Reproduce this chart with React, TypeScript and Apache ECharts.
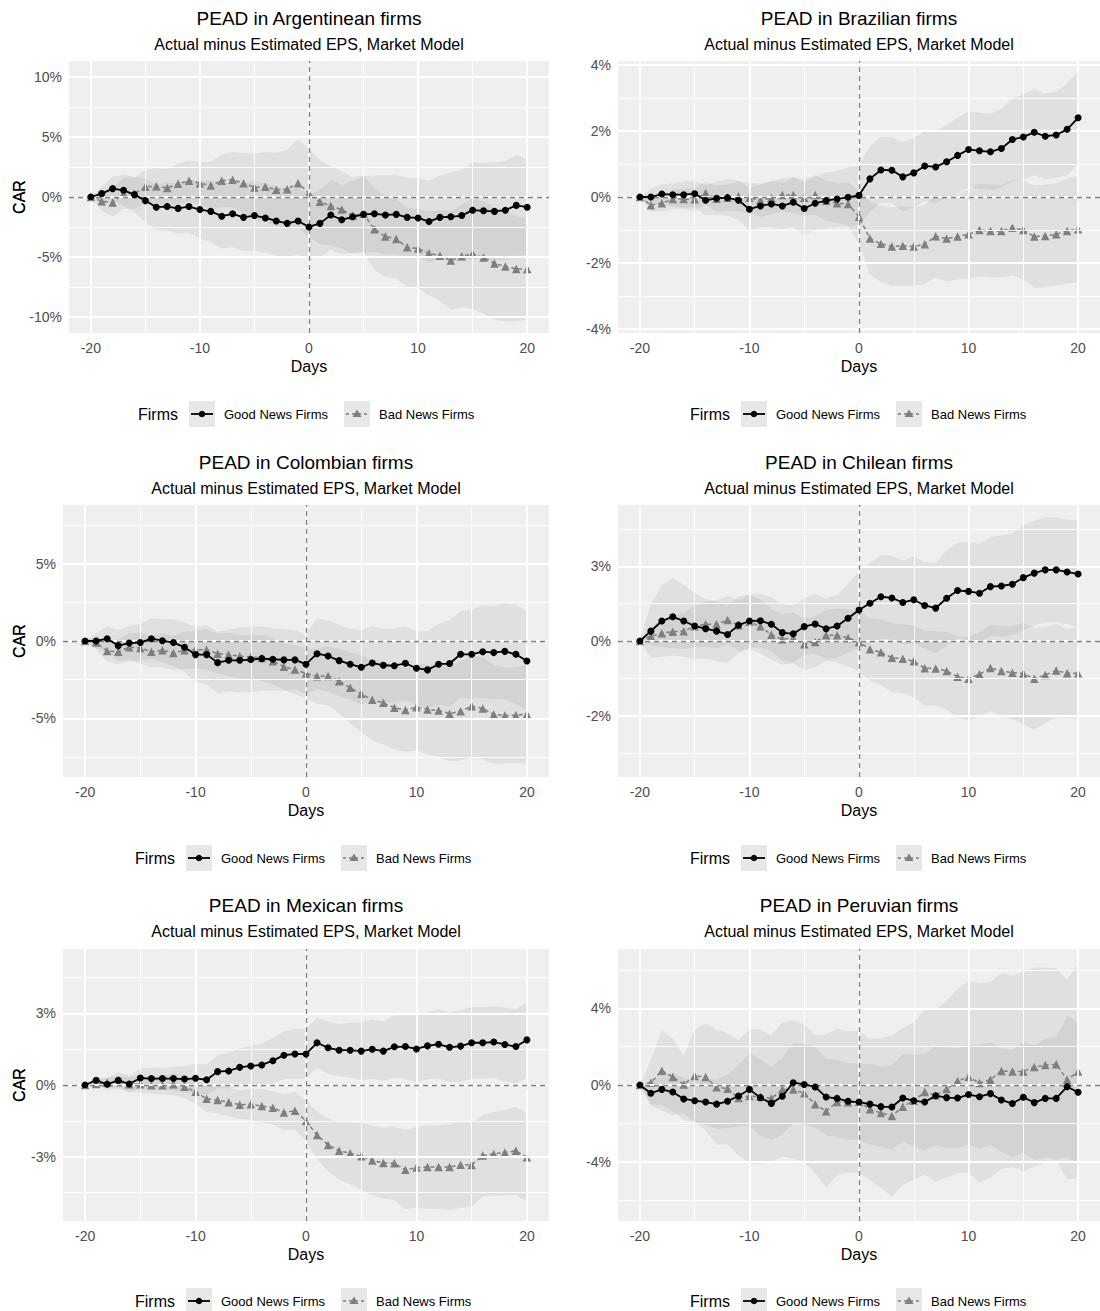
import React, { useEffect, useRef } from "react";
import * as echarts from "echarts";

const FONT = "'Liberation Sans', Arial, Helvetica, sans-serif";

// ---------- data ----------
const days = [-20, -19, -18, -17, -16, -15, -14, -13, -12, -11, -10, -9, -8, -7, -6, -5, -4, -3, -2, -1, 0, 1, 2, 3, 4, 5, 6, 7, 8, 9, 10, 11, 12, 13, 14, 15, 16, 17, 18, 19, 20];

const panelTitles = [
  "PEAD in Argentinean firms",
  "PEAD in Brazilian firms",
  "PEAD in Colombian firms",
  "PEAD in Chilean firms",
  "PEAD in Mexican firms",
  "PEAD in Peruvian firms",
];
const subtitle = "Actual minus Estimated EPS, Market Model";
const legendTitle = "Firms";
const legendLabels = ["Good News Firms", "Bad News Firms"];
const xTicks = [-20, -10, 0, 10, 20];
const xMinor = [-15, -5, 5, 15];

// Argentina (CAR, %)
const argGood = [0, 0.28, 0.7, 0.56, 0.2, -0.3, -0.85, -0.8, -0.95, -0.8, -1.05, -1.2, -1.6, -1.4, -1.7, -1.55, -1.75, -2.0, -2.2, -2.0, -2.5, -2.2, -1.5, -1.9, -1.65, -1.45, -1.4, -1.5, -1.45, -1.7, -1.75, -2.05, -1.7, -1.65, -1.55, -1.1, -1.15, -1.2, -1.1, -0.7, -0.85];
const argBad = [0, -0.35, -0.45, 0.3, 0.3, 0.85, 0.9, 0.75, 1.1, 1.35, 1.15, 0.95, 1.35, 1.45, 1.15, 0.8, 0.85, 0.6, 0.65, 1.15, 0.3, -0.4, -0.75, -1.05, -1.55, -1.4, -2.7, -3.3, -3.5, -4.2, -4.3, -4.7, -4.9, -5.3, -4.95, -4.75, -5.05, -5.55, -5.8, -6.0, -6.0];
const argGoodCI = [0, 0.6, 1.0, 1.3, 1.5, 1.8, 1.9, 2.0, 2.1, 2.2, 2.4, 2.6, 2.7, 2.8, 2.8, 2.9, 2.9, 2.9, 2.8, 2.8, 2.7, 2.8, 2.9, 2.9, 3.0, 3.2, 3.2, 3.3, 3.3, 3.3, 3.3, 3.4, 3.5, 3.7, 3.8, 4.0, 4.0, 4.1, 4.1, 4.2, 4.0];
const argBadCI = [0, 0.8, 1.2, 1.3, 1.3, 1.4, 1.5, 1.6, 1.7, 1.7, 1.8, 2.0, 2.2, 2.3, 2.5, 2.8, 2.9, 3.1, 3.3, 3.7, 3.7, 3.5, 3.3, 3.2, 3.2, 3.2, 3.4, 3.4, 3.3, 3.3, 3.3, 3.5, 3.8, 4.1, 4.3, 4.6, 4.7, 4.7, 4.6, 4.4, 4.2];
const argTicks = [-10, -5, 0, 5, 10];
const argTickLabels = ["-10%", "-5%", "0%", "5%", "10%"];
const argRange = [-11.35, 11.35];

// Brazil
const braGood = [0, 0, 0.09, 0.07, 0.07, 0.1, -0.1, -0.04, -0.02, -0.1, -0.37, -0.27, -0.21, -0.27, -0.16, -0.35, -0.19, -0.11, -0.06, -0.01, 0.05, 0.55, 0.82, 0.81, 0.61, 0.73, 0.94, 0.91, 1.07, 1.26, 1.44, 1.4, 1.37, 1.47, 1.74, 1.82, 1.96, 1.84, 1.88, 2.05, 2.4];
const braBad = [0, -0.25, -0.19, -0.06, -0.06, -0.07, 0.12, -0.05, -0.02, 0.02, -0.02, -0.1, -0.03, 0.06, 0.06, -0.02, 0.06, -0.11, -0.19, -0.21, -0.6, -1.26, -1.42, -1.5, -1.48, -1.5, -1.43, -1.19, -1.26, -1.2, -1.13, -1.0, -1.03, -1.03, -0.93, -1.0, -1.2, -1.18, -1.13, -1.03, -0.98];
const braGoodCI = [0, 0.25, 0.3, 0.35, 0.4, 0.4, 0.45, 0.5, 0.55, 0.6, 0.65, 0.65, 0.7, 0.7, 0.75, 0.8, 0.8, 0.85, 0.85, 0.9, 0.9, 1.0, 1.0, 1.0, 1.05, 1.05, 1.05, 1.1, 1.1, 1.15, 1.15, 1.15, 1.15, 1.2, 1.25, 1.3, 1.3, 1.3, 1.3, 1.4, 1.4];
const braBadCI = [0, 0.2, 0.25, 0.3, 0.3, 0.35, 0.35, 0.4, 0.4, 0.45, 0.45, 0.5, 0.5, 0.5, 0.55, 0.55, 0.6, 0.6, 0.6, 0.65, 0.8, 1.1, 1.15, 1.2, 1.2, 1.2, 1.2, 1.25, 1.3, 1.3, 1.35, 1.4, 1.4, 1.4, 1.45, 1.5, 1.55, 1.55, 1.55, 1.6, 1.6];
const braTicks = [-4, -2, 0, 2, 4];
const braTickLabels = ["-4%", "-2%", "0%", "2%", "4%"];
const braRange = [-4.12, 4.12];

// Colombia
const colGood = [0, 0, 0.15, -0.3, -0.13, -0.1, 0.15, 0.02, -0.1, -0.4, -0.88, -0.88, -1.4, -1.25, -1.25, -1.2, -1.14, -1.18, -1.22, -1.22, -1.5, -0.82, -0.97, -1.27, -1.5, -1.7, -1.42, -1.57, -1.6, -1.44, -1.76, -1.87, -1.5, -1.46, -0.86, -0.86, -0.69, -0.75, -0.67, -0.86, -1.29];
const colBad = [0, -0.1, -0.65, -0.7, -0.4, -0.45, -0.7, -0.6, -0.77, -0.6, -0.56, -0.56, -0.82, -0.88, -0.99, -1.03, -1.1, -1.31, -1.66, -1.85, -2.1, -2.28, -2.26, -2.6, -3.03, -3.42, -3.8, -4.0, -4.32, -4.47, -4.28, -4.43, -4.5, -4.7, -4.54, -4.22, -4.37, -4.75, -4.82, -4.8, -4.73];
const colGoodCI = [0, 0.5, 0.8, 1.0, 1.1, 1.2, 1.3, 1.4, 1.5, 1.6, 1.8, 1.9, 2.0, 2.0, 2.1, 2.1, 2.1, 2.0, 2.0, 1.9, 1.9, 2.3, 2.3, 2.3, 2.3, 2.4, 2.4, 2.4, 2.4, 2.4, 2.4, 2.5, 2.6, 2.8, 2.8, 2.9, 3.0, 3.0, 3.1, 3.2, 3.2];
const colBadCI = [0, 0.4, 0.7, 0.8, 0.9, 1.0, 1.0, 1.1, 1.1, 1.2, 1.2, 1.3, 1.3, 1.4, 1.4, 1.4, 1.5, 1.5, 1.5, 1.6, 1.6, 1.8, 1.9, 2.1, 2.3, 2.5, 2.6, 2.7, 2.7, 2.7, 2.8, 2.9, 3.0, 3.1, 3.2, 3.3, 3.3, 3.2, 3.1, 3.1, 3.2];
const colTicks = [-5, 0, 5];
const colTickLabels = ["-5%", "0%", "5%"];
const colRange = [-8.8, 8.8];

// Chile
const chiGood = [0, 0.33, 0.67, 0.81, 0.67, 0.5, 0.41, 0.33, 0.22, 0.53, 0.67, 0.68, 0.56, 0.28, 0.24, 0.48, 0.57, 0.41, 0.5, 0.76, 1.04, 1.26, 1.48, 1.44, 1.29, 1.38, 1.19, 1.1, 1.43, 1.69, 1.66, 1.6, 1.82, 1.84, 1.9, 2.12, 2.27, 2.38, 2.38, 2.31, 2.24];
const chiBad = [0, 0.16, 0.26, 0.31, 0.33, 0.49, 0.56, 0.56, 0.7, 0.53, 0.64, 0.49, 0.21, 0.06, 0.1, -0.11, -0.03, 0.19, 0.19, 0.1, -0.03, -0.28, -0.38, -0.56, -0.59, -0.68, -0.91, -0.92, -1.0, -1.2, -1.26, -1.11, -0.9, -1.0, -1.06, -1.09, -1.26, -1.14, -0.99, -1.08, -1.08];
const chiGoodCI = [0, 0.9, 1.2, 1.3, 1.2, 1.1, 1.0, 1.0, 0.95, 0.95, 0.9, 0.9, 0.9, 0.95, 0.95, 0.95, 1.0, 1.0, 1.05, 1.15, 1.3, 1.35, 1.4, 1.4, 1.4, 1.45, 1.45, 1.5, 1.6, 1.6, 1.65, 1.65, 1.65, 1.7, 1.7, 1.75, 1.75, 1.75, 1.75, 1.75, 1.8];
const chiBadCI = [0, 0.3, 0.45, 0.55, 0.6, 0.7, 0.75, 0.8, 0.8, 0.85, 0.9, 0.9, 0.85, 0.85, 0.85, 0.85, 0.85, 0.85, 0.9, 0.95, 1.0, 1.05, 1.1, 1.15, 1.15, 1.2, 1.25, 1.25, 1.3, 1.35, 1.4, 1.4, 1.45, 1.5, 1.55, 1.7, 1.7, 1.6, 1.55, 1.5, 1.5];
const chiTicks = [-2.5, 0, 2.5];
const chiTickLabels = ["-2%", "0%", "3%"];
const chiRange = [-4.55, 4.55];

// Mexico
const mexGood = [0, 0.2, 0.03, 0.2, 0.04, 0.29, 0.27, 0.27, 0.27, 0.25, 0.28, 0.22, 0.56, 0.59, 0.74, 0.8, 0.84, 1.02, 1.25, 1.3, 1.3, 1.77, 1.56, 1.46, 1.46, 1.42, 1.5, 1.42, 1.6, 1.61, 1.51, 1.64, 1.71, 1.58, 1.63, 1.77, 1.77, 1.8, 1.7, 1.61, 1.89];
const mexBad = [0, 0.04, 0.1, 0.13, 0.03, 0.03, -0.01, -0.01, 0.03, -0.07, -0.28, -0.58, -0.63, -0.72, -0.83, -0.81, -0.88, -0.95, -1.15, -1.08, -1.51, -2.1, -2.51, -2.76, -2.86, -2.99, -3.16, -3.27, -3.28, -3.55, -3.46, -3.44, -3.44, -3.44, -3.34, -3.35, -2.96, -2.89, -2.83, -2.76, -3.03];
const mexGoodCI = [0, 0.15, 0.25, 0.35, 0.35, 0.4, 0.45, 0.45, 0.5, 0.55, 0.6, 0.65, 0.7, 0.75, 0.8, 0.85, 0.9, 0.95, 1.0, 1.05, 1.05, 1.05, 1.1, 1.1, 1.15, 1.2, 1.25, 1.25, 1.3, 1.35, 1.4, 1.4, 1.45, 1.45, 1.5, 1.5, 1.5, 1.5, 1.55, 1.55, 1.6];
const mexBadCI = [0, 0.15, 0.2, 0.25, 0.3, 0.35, 0.35, 0.4, 0.45, 0.5, 0.5, 0.55, 0.55, 0.6, 0.6, 0.65, 0.7, 0.7, 0.75, 0.8, 0.85, 1.0, 1.1, 1.2, 1.3, 1.4, 1.45, 1.5, 1.55, 1.65, 1.7, 1.75, 1.75, 1.8, 1.8, 1.75, 1.7, 1.75, 1.8, 1.85, 1.85];
const mexTicks = [-3, 0, 3];
const mexTickLabels = ["-3%", "0%", "3%"];
const mexRange = [-5.7, 5.7];

// Peru
const perGood = [0, -0.43, -0.23, -0.37, -0.73, -0.82, -0.89, -1.0, -0.85, -0.57, -0.23, -0.66, -0.96, -0.59, 0.12, 0.03, -0.1, -0.63, -0.7, -0.85, -0.89, -1.0, -1.13, -1.15, -0.68, -0.82, -0.89, -0.56, -0.66, -0.68, -0.5, -0.61, -0.45, -0.78, -0.97, -0.64, -0.92, -0.7, -0.7, -0.09, -0.38];
const perBad = [0, 0.12, 0.75, 0.42, 0.03, 0.47, 0.42, -0.12, -0.19, -0.68, -0.57, -0.61, -0.7, -0.24, -0.24, -0.43, -1.0, -1.37, -0.89, -0.9, -0.89, -1.27, -1.46, -1.62, -1.13, -0.82, -0.37, -0.54, -0.21, 0.21, 0.43, 0.1, 0.28, 0.73, 0.71, 0.71, 0.94, 1.04, 1.08, 0.28, 0.7];
const perGoodCI = [0, 0.6, 0.8, 1.0, 1.1, 1.1, 1.2, 1.3, 1.4, 1.6, 1.9, 2.0, 1.9, 2.0, 2.1, 2.1, 2.1, 2.0, 2.0, 2.0, 2.0, 2.1, 2.1, 2.2, 2.3, 2.4, 2.5, 2.6, 2.6, 2.6, 2.6, 2.7, 2.7, 2.7, 2.8, 2.9, 3.0, 3.1, 3.2, 3.7, 3.7];
const perBadCI = [0, 1.2, 2.1, 2.0, 1.5, 2.4, 2.8, 3.0, 2.9, 3.0, 3.5, 3.5, 3.3, 3.5, 3.6, 3.6, 3.6, 4.0, 3.8, 3.7, 3.7, 3.7, 3.9, 4.2, 4.1, 4.1, 4.3, 4.5, 4.6, 4.8, 5.0, 5.2, 5.1, 5.1, 5.0, 5.2, 5.2, 5.1, 5.0, 5.2, 5.6];
const perTicks = [-4, 0, 4];
const perTickLabels = ["-4%", "0%", "4%"];
const perRange = [-7.1, 7.1];

const panels = [
  { good: argGood, bad: argBad, goodCI: argGoodCI, badCI: argBadCI, ticks: argTicks, labels: argTickLabels, range: argRange },
  { good: braGood, bad: braBad, goodCI: braGoodCI, badCI: braBadCI, ticks: braTicks, labels: braTickLabels, range: braRange },
  { good: colGood, bad: colBad, goodCI: colGoodCI, badCI: colBadCI, ticks: colTicks, labels: colTickLabels, range: colRange },
  { good: chiGood, bad: chiBad, goodCI: chiGoodCI, badCI: chiBadCI, ticks: chiTicks, labels: chiTickLabels, range: chiRange },
  { good: mexGood, bad: mexBad, goodCI: mexGoodCI, badCI: mexBadCI, ticks: mexTicks, labels: mexTickLabels, range: mexRange },
  { good: perGood, bad: perBad, goodCI: perGoodCI, badCI: perBadCI, ticks: perTicks, labels: perTickLabels, range: perRange },
];

// ---------- layout & style ----------
const PANEL_H = 272;
const layout = [
  { left: 69, top: 61, width: 480, legendX: 138, legendY: 414, titleY: 18 },
  { left: 618, top: 61, width: 485, legendX: 690, legendY: 414, titleY: 18 },
  { left: 63, top: 505, width: 486, legendX: 135, legendY: 858, titleY: 462 },
  { left: 618, top: 505, width: 485, legendX: 690, legendY: 858, titleY: 462 },
  { left: 63, top: 949, width: 486, legendX: 135, legendY: 1301, titleY: 905 },
  { left: 618, top: 949, width: 485, legendX: 690, legendY: 1301, titleY: 905 },
];
const PANEL_BG = "#EFEFEF";
const BAND = "rgba(100,100,100,0.10)";
const GRID_LINE = "#FFFFFF";
const BAD_COLOR = "#7F7F7F";
const TICK_TEXT = "#4D4D4D";
const KEY_BG = "#E7E7E7";

function textEl(x: number, y: number, text: string, fontSize: number, align: string, fill = "#000") {
  return {
    type: "text",
    x,
    y,
    silent: true,
    style: {
      text,
      fontSize,
      fontFamily: FONT,
      fill,
      textAlign: align,
      align,
      textVerticalAlign: "middle",
      verticalAlign: "middle",
    },
  };
}

function legendEls(x0: number, y: number) {
  return [
    textEl(x0, y, legendTitle, 16, "left"),
    { type: "rect", silent: true, shape: { x: x0 + 51, y: y - 13, width: 26, height: 26 }, style: { fill: KEY_BG } },
    { type: "line", silent: true, shape: { x1: x0 + 53, y1: y, x2: x0 + 75, y2: y }, style: { stroke: "#000", lineWidth: 1.8 } },
    { type: "circle", silent: true, shape: { cx: x0 + 64, cy: y, r: 3.3 }, style: { fill: "#000" } },
    textEl(x0 + 86, y, legendLabels[0], 13, "left"),
    { type: "rect", silent: true, shape: { x: x0 + 206, y: y - 13, width: 26, height: 26 }, style: { fill: KEY_BG } },
    { type: "line", silent: true, shape: { x1: x0 + 208, y1: y, x2: x0 + 230, y2: y }, style: { stroke: BAD_COLOR, lineWidth: 1.6, lineDash: [3, 3] } },
    { type: "polygon", silent: true, shape: { points: [[x0 + 219, y - 4.5], [x0 + 214.5, y + 3], [x0 + 223.5, y + 3]] }, style: { fill: BAD_COLOR } },
    textEl(x0 + 241, y, legendLabels[1], 13, "left"),
  ];
}

function minorValues(ticks: number[], range: number[]) {
  const step = ticks[1] - ticks[0];
  const out: number[] = [];
  const candidates = [ticks[0] - step / 2, ...ticks.map((t) => t + step / 2)];
  candidates.forEach((v) => {
    if (v > range[0] && v < range[1]) out.push(v);
  });
  return out;
}

function bandSeries(i: number, name: string, values: number[], ci: number[]) {
  const rows = days.map((d, j) => [d, values[j] - ci[j], values[j] + ci[j]]);
  return {
    type: "custom",
    name,
    xAxisIndex: i,
    yAxisIndex: i,
    silent: true,
    z: 2,
    data: rows,
    encode: { x: 0, y: [1, 2] },
    renderItem: (params: any, api: any) => {
      if (params.dataIndex !== 0) return null;
      const pts: number[][] = [];
      for (let j = 0; j < rows.length; j++) pts.push(api.coord([rows[j][0], rows[j][1]]));
      for (let j = rows.length - 1; j >= 0; j--) pts.push(api.coord([rows[j][0], rows[j][2]]));
      return {
        type: "polygon",
        shape: { points: pts },
        style: { fill: BAND, stroke: "none" },
        silent: true,
      };
    },
  };
}

function buildOption() {
  const grid: any[] = [];
  const xAxis: any[] = [];
  const yAxis: any[] = [];
  const series: any[] = [];
  const graphic: any[] = [];

  panels.forEach((p, i) => {
    const L = layout[i];
    grid.push({
      left: L.left,
      top: L.top,
      width: L.width,
      height: PANEL_H,
      show: true,
      backgroundColor: PANEL_BG,
      borderWidth: 0,
    });
    xAxis.push({
      type: "value",
      gridIndex: i,
      min: -22,
      max: 22,
      axisLine: { show: false },
      splitLine: { show: false },
      axisTick: { show: true, customValues: xTicks, length: 4, lineStyle: { color: "#333", width: 1 } },
      axisLabel: { customValues: xTicks, color: TICK_TEXT, fontSize: 14, fontFamily: FONT, margin: 8 },
      name: "Days",
      nameLocation: "middle",
      nameGap: 25,
      nameMoveOverlap: false,
      nameTextStyle: { color: "#000", fontSize: 16, fontFamily: FONT },
    });
    const ticks = p.ticks;
    const labels = p.labels;
    yAxis.push({
      type: "value",
      gridIndex: i,
      min: p.range[0],
      max: p.range[1],
      axisLine: { show: false },
      splitLine: { show: false },
      axisTick: { show: true, customValues: ticks, length: 4, lineStyle: { color: "#333", width: 1 } },
      axisLabel: {
        customValues: ticks,
        color: TICK_TEXT,
        fontSize: 14,
        fontFamily: FONT,
        margin: 7,
        formatter: (v: number) => {
          const k = ticks.findIndex((t) => Math.abs(t - v) < 1e-6);
          return k >= 0 ? labels[k] : "";
        },
      },
      name: "CAR",
      nameLocation: "middle",
      nameRotate: 90,
      nameGap: L.left - 27,
      nameMoveOverlap: false,
      nameTextStyle: { color: "#000", fontSize: 16, fontFamily: FONT },
    });

    const common = { xAxisIndex: i, yAxisIndex: i, silent: true, animation: false };

    // grid lines (white, major + minor)
    const yMinor = minorValues(ticks, p.range);
    const gl: any[] = [];
    xMinor.forEach((v) => gl.push({ xAxis: v, lineStyle: { color: GRID_LINE, width: 0.9, type: "solid" } }));
    yMinor.forEach((v) => gl.push({ yAxis: v, lineStyle: { color: GRID_LINE, width: 0.9, type: "solid" } }));
    xTicks.forEach((v) => gl.push({ xAxis: v, lineStyle: { color: GRID_LINE, width: 1.8, type: "solid" } }));
    ticks.forEach((v) => gl.push({ yAxis: v, lineStyle: { color: GRID_LINE, width: 1.8, type: "solid" } }));
    series.push({
      ...common,
      type: "line",
      name: "grid" + i,
      data: [],
      z: 1,
      markLine: { silent: true, symbol: ["none", "none"], label: { show: false }, emphasis: { disabled: true }, data: gl, animation: false },
    });

    // confidence bands
    series.push(bandSeries(i, "band-good-" + i, p.good, p.goodCI));
    series.push(bandSeries(i, "band-bad-" + i, p.bad, p.badCI));

    // reference dashed lines at zero
    series.push({
      ...common,
      type: "line",
      name: "ref" + i,
      data: [],
      z: 3,
      markLine: {
        silent: true,
        symbol: ["none", "none"],
        label: { show: false },
        emphasis: { disabled: true },
        animation: false,
        lineStyle: { color: BAD_COLOR, width: 1.3, type: [5, 4] },
        data: [{ xAxis: 0 }, { yAxis: 0 }],
      },
    });

    // bad news line (dashed, triangles)
    series.push({
      ...common,
      type: "line",
      name: legendLabels[1],
      data: days.map((d, j) => [d, p.bad[j]]),
      symbol: "triangle",
      symbolSize: 8.5,
      showSymbol: true,
      itemStyle: { color: BAD_COLOR },
      lineStyle: { color: BAD_COLOR, width: 1.5, type: [4, 3] },
      z: 4,
    });
    // good news line (solid, circles)
    series.push({
      ...common,
      type: "line",
      name: legendLabels[0],
      data: days.map((d, j) => [d, p.good[j]]),
      symbol: "circle",
      symbolSize: 7,
      showSymbol: true,
      itemStyle: { color: "#000" },
      lineStyle: { color: "#000", width: 1.8 },
      z: 5,
    });

    // titles
    const cx = L.left + L.width / 2 - (L.left + L.width > 1100 ? 1.5 : 0);
    graphic.push(textEl(cx, L.titleY, panelTitles[i], 19, "center"));
    graphic.push(textEl(cx, L.titleY + 26, subtitle, 16, "center"));
    legendEls(L.legendX, L.legendY).forEach((e) => graphic.push(e));
  });

  return {
    animation: false,
    backgroundColor: "#FFFFFF",
    textStyle: { fontFamily: FONT },
    grid,
    xAxis,
    yAxis,
    series,
    graphic,
  };
}

export default function App() {
  const ref = useRef<HTMLDivElement | null>(null);
  useEffect(() => {
    if (!ref.current) return;
    const chart = echarts.init(ref.current, undefined, { renderer: "svg" });
    chart.setOption(buildOption() as any);
    return () => chart.dispose();
  }, []);
  return (
    <div
      ref={ref}
      style={{ position: "absolute", left: 0, top: 0, width: 1100, height: 1311, background: "#fff" }}
    />
  );
}
